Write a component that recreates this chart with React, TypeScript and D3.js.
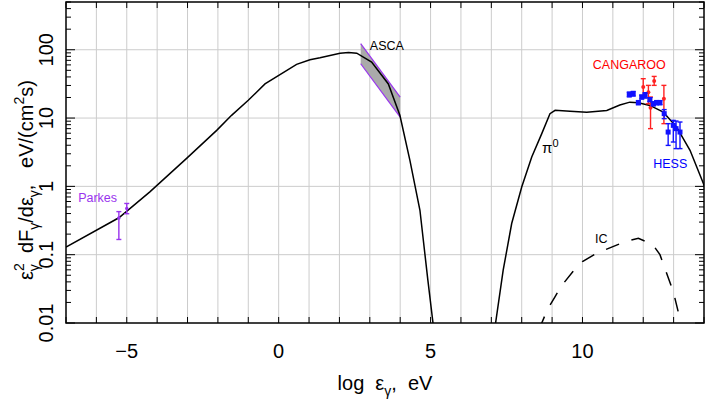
import React from 'react';
import * as d3 from 'd3';

// ---------------- data ----------------
// Synchrotron (main) curve: log10(eps/eV) and flux eps^2 dF/deps (eV/(cm^2 s))
const syncLogE = [-7, -5.26, -4.24, -3.03, -2.04, -1.55, -1.0, -0.45, 0.59, 1.03, 1.36, 2.02, 2.3, 2.57, 3.06, 3.61, 3.99, 4.32, 4.65, 4.91, 5.08, 5.2];
const syncFlux = [0.129, 0.347, 0.832, 2.57, 6.61, 10.96, 18.2, 31.6, 61.0, 71.4, 76.4, 89.1, 91.0, 89.1, 66.1, 31.6, 11.0, 2.4, 0.447, 0.0427, 0.01, 0.00316];

// pi0-decay curve
const pionLogE = [7.1, 7.14, 7.39, 7.67, 8.0, 8.33, 8.66, 8.93, 9.1, 9.59, 10.14, 10.8, 11.23, 11.56, 11.84, 12.22, 12.66, 13.1, 13.54, 13.98, 14.05];
const pionFlux = [0.00759, 0.01, 0.0593, 0.286, 0.977, 2.69, 5.92, 11.6, 13.0, 12.6, 12.2, 12.9, 15.5, 17.1, 16.8, 15.3, 12.2, 7.38, 3.37, 1.1, 0.89];

// inverse Compton curve (dashed)
const icLogE = [8.6, 8.66, 8.84, 9.09, 9.32, 9.68, 10.0, 10.47, 10.9, 11.4, 11.84, 12.31, 12.55, 12.77, 12.99, 13.18, 13.2, 13.25];
const icFlux = [0.00794, 0.01, 0.0155, 0.024, 0.0355, 0.0562, 0.0794, 0.105, 0.126, 0.155, 0.174, 0.141, 0.1, 0.0537, 0.0288, 0.0129, 0.01, 0.00794];

// ASCA band
const ascaLogE = [2.7, 4.0];
const ascaUpper = [122.5, 20.3];
const ascaLower = [62.4, 10.35];

// Parkes radio points
const parkesLogE = [-5.26, -5.0];
const parkesFlux = [0.345, 0.473];
const parkesHi = [0.427, 0.562];
const parkesLo = [0.167, 0.398];

// CANGAROO points
const cangLogE = [12.0, 12.36, 12.17, 12.24, 12.68];
const cangFlux = [28.4, 34.8, 23.8, 14.2, 19.2];
const cangHi = [37.7, 40.7, 30.1, 20.3, 30.1];
const cangLo = [20.3, 30.1, 16.2, 7.0, 8.28];

// HESS points
const hessLogE = [11.54, 11.67, 11.84, 11.95, 12.06, 12.22, 12.33, 12.44, 12.55, 12.69, 12.82, 12.99, 13.08, 13.21];
const hessFlux = [22.2, 22.7, 16.8, 20.3, 21.5, 18.6, 16.2, 16.8, 16.8, 11.6, 6.24, 7.82, 7.0, 6.24];
const hessHi = [24.0, 24.5, 18.0, 21.7, 23.5, 19.9, 17.3, 18.0, 18.0, 13.3, 8.28, 9.25, 9.04, 8.75];
const hessLo = [20.4, 21.0, 15.7, 19.0, 19.6, 17.4, 15.1, 15.7, 15.7, 9.8, 3.98, 4.46, 3.57, 3.57];

// axis ticks
const xTickValues = d3.range(-7, 15);
const xTickLabels = [-5, 0, 5, 10];
const yDecades = [0.01, 0.1, 1, 10, 100];
const yDecadeLabels = ['0.01', '0.1', '1', '10', '100'];

// annotations (data coordinates)
const labels = [
  { text: 'ASCA', x: 3.0, y: 98, color: '#000000' },
  { text: 'CANGAROO', x: 10.34, y: 52.7, color: '#ff0000' },
  { text: 'HESS', x: 12.33, y: 1.86, color: '#0000ff' },
  { text: 'Parkes', x: -6.6, y: 0.59, color: '#9933ee' },
  { text: 'IC', x: 10.41, y: 0.146, color: '#000000' },
];
const pionLabel = { x: 8.67, y: 3.05 };

// ---------------- layout ----------------
const W = 706;
const H = 401;
const PL = 66, PR = 704, PT = 2, PB = 323;
const FONT = '"Liberation Sans", Arial, Helvetica, sans-serif';
const PURPLE = '#9933ee';
const RED = '#ff2222';
const BLUE = '#1111ff';
const NB = '\u00a0';

export default function App() {
  const x = d3.scaleLinear().domain([-7, 14]).range([PL, PR]);
  const y = d3.scaleLog().domain([0.01, 500]).range([PB, PT]);

  const line = d3
    .line<[number, number]>()
    .x((d) => x(d[0]))
    .y((d) => y(d[1]));

  const zip = (a: number[], b: number[]) => a.map((v, i) => [v, b[i]] as [number, number]);

  const yMinor: number[] = [];
  yDecades.forEach((d) => {
    for (let k = 2; k <= 9; k++) if (d * k <= 500) yMinor.push(d * k);
  });

  const ascaPoly = [
    [x(ascaLogE[0]), y(ascaUpper[0])],
    [x(ascaLogE[1]), y(ascaUpper[1])],
    [x(ascaLogE[1]), y(ascaLower[1])],
    [x(ascaLogE[0]), y(ascaLower[0])],
  ]
    .map((p) => p.join(','))
    .join(' ');

  const errBars = (
    es: number[],
    fs: number[],
    his: number[],
    los: number[],
    color: string,
    marker: 'square' | 'circle',
    size: number,
    key: string
  ) =>
    es.map((e, i) => {
      const cx = x(e);
      const cy = y(fs[i]);
      const cap = 2.5;
      return (
        <g key={key + i} stroke={color} fill={color}>
          <line x1={cx} x2={cx} y1={y(his[i])} y2={y(los[i])} strokeWidth={1.4} />
          <line x1={cx - cap} x2={cx + cap} y1={y(his[i])} y2={y(his[i])} strokeWidth={1.4} />
          <line x1={cx - cap} x2={cx + cap} y1={y(los[i])} y2={y(los[i])} strokeWidth={1.4} />
          {marker === 'square' ? (
            <rect x={cx - size / 2} y={cy - size / 2} width={size} height={size} stroke="none" />
          ) : (
            <circle cx={cx} cy={cy} r={size / 2} stroke="none" />
          )}
        </g>
      );
    });

  return (
    <svg
      width={W}
      height={H}
      style={{ position: 'absolute', left: 0, top: 0, background: '#fff' }}
      fontFamily={FONT}
    >
      <defs>
        <clipPath id="plotclip">
          <rect x={PL} y={PT} width={PR - PL} height={PB - PT} />
        </clipPath>
      </defs>
      <rect x={0} y={0} width={W} height={H} fill="#fff" />

      {/* grid */}
      <g stroke="#cccccc" strokeWidth={1}>
        {xTickValues
          .filter((v) => v > -7 && v < 14)
          .map((v) => (
            <line key={'gx' + v} x1={x(v)} x2={x(v)} y1={PT} y2={PB} />
          ))}
        {yDecades
          .filter((v) => v > 0.01)
          .map((v) => (
            <line key={'gy' + v} x1={PL} x2={PR} y1={y(v)} y2={y(v)} />
          ))}
      </g>

      <g clipPath="url(#plotclip)">
        {/* ASCA band */}
        <polygon points={ascaPoly} fill="#aaaaaa" stroke="none" />
        <line
          x1={x(ascaLogE[0])}
          y1={y(ascaUpper[0])}
          x2={x(ascaLogE[1])}
          y2={y(ascaUpper[1])}
          stroke={PURPLE}
          strokeWidth={1.2}
        />
        <line
          x1={x(ascaLogE[0])}
          y1={y(ascaLower[0])}
          x2={x(ascaLogE[1])}
          y2={y(ascaLower[1])}
          stroke={PURPLE}
          strokeWidth={1.2}
        />

        {/* curves */}
        <path d={line(zip(syncLogE, syncFlux)) || ''} fill="none" stroke="#000" strokeWidth={1.5} />
        <path d={line(zip(pionLogE, pionFlux)) || ''} fill="none" stroke="#000" strokeWidth={1.5} />
        <path
          d={line(zip(icLogE, icFlux)) || ''}
          fill="none"
          stroke="#000"
          strokeWidth={1.5}
          strokeDasharray="14,13"
        />

        {/* data */}
        {errBars(parkesLogE, parkesFlux, parkesHi, parkesLo, PURPLE, 'circle', 3.5, 'pk')}
        {errBars(cangLogE, cangFlux, cangHi, cangLo, RED, 'circle', 4, 'cg')}
        {errBars(hessLogE, hessFlux, hessHi, hessLo, BLUE, 'square', 5, 'hs')}
      </g>

      {/* ticks */}
      <g stroke="#000" strokeWidth={1}>
        {xTickValues.map((v) => (
          <g key={'tx' + v}>
            <line x1={x(v)} x2={x(v)} y1={PB} y2={PB - 6} />
            <line x1={x(v)} x2={x(v)} y1={PT} y2={PT + 6} />
          </g>
        ))}
        {yDecades.map((v) => (
          <g key={'ty' + v}>
            <line x1={PL} x2={PL + 9} y1={y(v)} y2={y(v)} />
            <line x1={PR} x2={PR - 9} y1={y(v)} y2={y(v)} />
          </g>
        ))}
        {yMinor.map((v) => (
          <g key={'tym' + v}>
            <line x1={PL} x2={PL + 5} y1={y(v)} y2={y(v)} />
            <line x1={PR} x2={PR - 5} y1={y(v)} y2={y(v)} />
          </g>
        ))}
      </g>

      {/* frame */}
      <rect x={PL} y={PT} width={PR - PL} height={PB - PT} fill="none" stroke="#000" strokeWidth={1.5} />

      {/* tick labels */}
      <g fontSize={20} fill="#000">
        {xTickLabels.map((v) => (
          <text key={'xl' + v} x={x(v)} y={358} textAnchor="middle">
            {v < 0 ? '\u2212' + Math.abs(v) : String(v)}
          </text>
        ))}
        {yDecades.map((v, i) => (
          <text key={'yl' + v} transform={`translate(53,${y(v)}) rotate(-90)`} textAnchor="middle">
            {yDecadeLabels[i]}
          </text>
        ))}
      </g>

      {/* axis titles */}
      <text x={(PL + PR) / 2} y={390} textAnchor="middle" fontSize={20}>
        <tspan>{`log${NB}${NB}\u03b5`}</tspan>
        <tspan dy={6} fontSize={14}>
          {'\u03b3'}
        </tspan>
        <tspan dy={-6}>{`,${NB}${NB}eV`}</tspan>
      </text>
      <text transform={`translate(33,180) rotate(-90)`} textAnchor="middle" fontSize={20}>
        <tspan>{'\u03b5'}</tspan>
        <tspan dy={-9} fontSize={14}>
          2
        </tspan>
        <tspan dx={-8} dy={15} fontSize={14}>
          {'\u03b3'}
        </tspan>
        <tspan dy={-6}>{`${NB}${NB}dF`}</tspan>
        <tspan dy={6} fontSize={14}>
          {'\u03b3'}
        </tspan>
        <tspan dy={-6}>{'/d\u03b5'}</tspan>
        <tspan dy={6} fontSize={14}>
          {'\u03b3'}
        </tspan>
        <tspan dy={-6}>{`,${NB}${NB}${NB}eV/(cm`}</tspan>
        <tspan dy={-9} fontSize={14}>
          2
        </tspan>
        <tspan dy={9}>{'s)'}</tspan>
      </text>

      {/* annotations */}
      {labels.map((l) => (
        <text key={l.text} x={x(l.x)} y={y(l.y)} fill={l.color} fontSize={12.5}>
          {l.text}
        </text>
      ))}
      <text x={x(pionLabel.x)} y={y(pionLabel.y)} fontSize={15}>
        <tspan>{'\u03c0'}</tspan>
        <tspan dy={-6} fontSize={11}>
          0
        </tspan>
      </text>
    </svg>
  );
}
